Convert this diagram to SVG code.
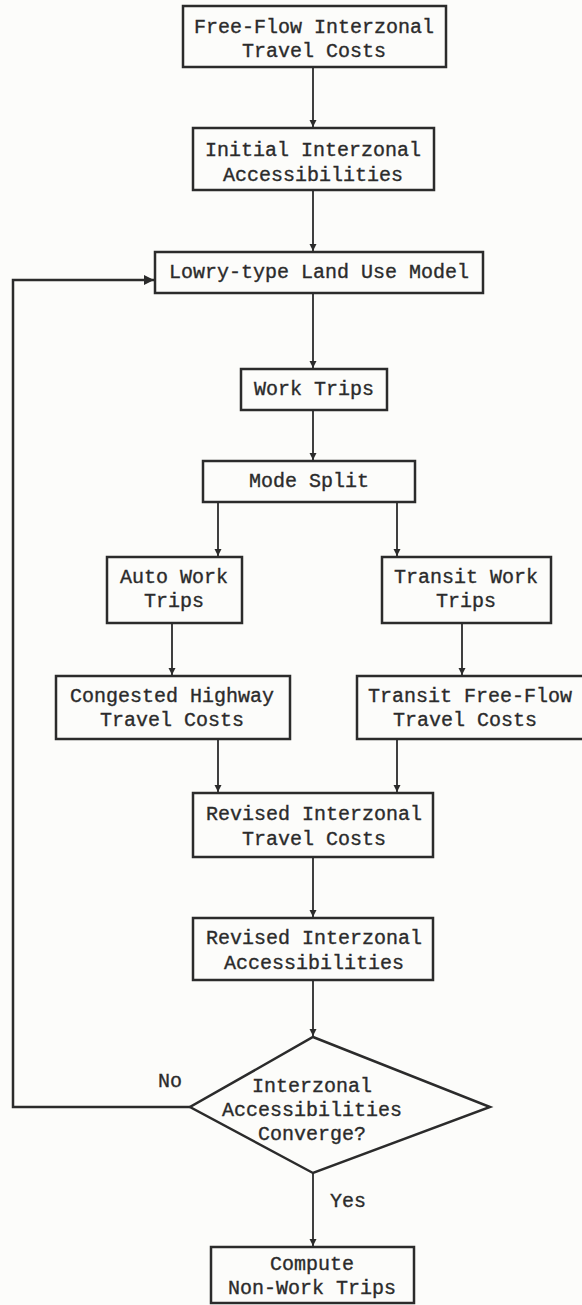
<svg xmlns="http://www.w3.org/2000/svg" width="582" height="1305" viewBox="0 0 582 1305">
  <defs>
    <marker id="arrow" viewBox="0 0 10 10" refX="10" refY="5" markerWidth="7" markerHeight="9" orient="auto" markerUnits="userSpaceOnUse">
      <path d="M0,0 L10,5 L0,10 z" fill="#2b2b2b"/>
    </marker>
    <marker id="arrowBig" viewBox="0 0 10 10" refX="10" refY="5" markerWidth="15" markerHeight="10" orient="auto" markerUnits="userSpaceOnUse">
      <path d="M0,0 L10,5 L0,10 z" fill="#2b2b2b"/>
    </marker>
  </defs>
  <style>
    .box { fill: none; stroke: #2b2b2b; stroke-width: 2.5; }
    .lbl { font-family: "Liberation Mono", "DejaVu Sans Mono", monospace; font-size: 20px; fill: #2b2b2b; stroke: #2b2b2b; stroke-width: 0.35; text-anchor: middle; }
    .tag { font-family: "Liberation Mono", "DejaVu Sans Mono", monospace; font-size: 20px; fill: #2b2b2b; stroke: #2b2b2b; stroke-width: 0.35; }
    .edge { fill: none; stroke: #2b2b2b; stroke-width: 1.8; marker-end: url(#arrow); }
    .loop { fill: none; stroke: #2b2b2b; stroke-width: 2.5; marker-end: url(#arrowBig); }
  </style>
  <rect x="0" y="0" width="582" height="1305" fill="#fcfcfa"/>

  <g id="connectors">
    <line class="edge" x1="313" y1="67" x2="313" y2="127"/>
    <line class="edge" x1="313" y1="190" x2="313" y2="251"/>
    <line class="edge" x1="313" y1="293" x2="313" y2="368"/>
    <line class="edge" x1="313" y1="410" x2="313" y2="460"/>
    <line class="edge" x1="218" y1="502" x2="218" y2="556"/>
    <line class="edge" x1="397" y1="502" x2="397" y2="556"/>
    <line class="edge" x1="172" y1="623" x2="172" y2="675"/>
    <line class="edge" x1="462" y1="623" x2="462" y2="675"/>
    <line class="edge" x1="218" y1="739" x2="218" y2="792"/>
    <line class="edge" x1="397" y1="739" x2="397" y2="792"/>
    <line class="edge" x1="313" y1="857" x2="313" y2="917"/>
    <line class="edge" x1="313" y1="980" x2="313" y2="1036"/>
    <line class="edge" x1="313" y1="1173" x2="313" y2="1246"/>
    <polyline class="loop" points="190,1107 13,1107 13,280 154,280"/>
    <text class="tag" x="158" y="1087">No</text>
    <text class="tag" x="330" y="1207">Yes</text>
  </g>

  <g id="free-flow-costs">
    <rect class="box" x="183" y="6" width="263" height="61"/>
    <text class="lbl" x="314" y="33">Free-Flow Interzonal</text>
    <text class="lbl" x="314" y="57">Travel Costs</text>
  </g>

  <g id="initial-accessibilities">
    <rect class="box" x="193" y="128" width="241" height="62"/>
    <text class="lbl" x="313" y="156">Initial Interzonal</text>
    <text class="lbl" x="313" y="181">Accessibilities</text>
  </g>

  <g id="land-use-model">
    <rect class="box" x="155" y="252" width="328" height="41"/>
    <text class="lbl" x="319" y="278">Lowry-type Land Use Model</text>
  </g>

  <g id="work-trips">
    <rect class="box" x="241" y="369" width="146" height="41"/>
    <text class="lbl" x="314" y="395">Work Trips</text>
  </g>

  <g id="mode-split">
    <rect class="box" x="203" y="461" width="212" height="41"/>
    <text class="lbl" x="309" y="487">Mode Split</text>
  </g>

  <g id="auto-work-trips">
    <rect class="box" x="107" y="557" width="135" height="66"/>
    <text class="lbl" x="174" y="583">Auto Work</text>
    <text class="lbl" x="174" y="607">Trips</text>
  </g>

  <g id="transit-work-trips">
    <rect class="box" x="382" y="557" width="169" height="66"/>
    <text class="lbl" x="466" y="583">Transit Work</text>
    <text class="lbl" x="466" y="607">Trips</text>
  </g>

  <g id="congested-highway-costs">
    <rect class="box" x="56" y="676" width="234" height="63"/>
    <text class="lbl" x="172" y="702">Congested Highway</text>
    <text class="lbl" x="172" y="726">Travel Costs</text>
  </g>

  <g id="transit-free-flow-costs">
    <rect class="box" x="357" y="676" width="235" height="63"/>
    <text class="lbl" x="470" y="702">Transit Free-Flow</text>
    <text class="lbl" x="465" y="726">Travel Costs</text>
  </g>

  <g id="revised-travel-costs">
    <rect class="box" x="193" y="793" width="240" height="64"/>
    <text class="lbl" x="314" y="820">Revised Interzonal</text>
    <text class="lbl" x="314" y="845">Travel Costs</text>
  </g>

  <g id="revised-accessibilities">
    <rect class="box" x="193" y="918" width="240" height="62"/>
    <text class="lbl" x="314" y="944">Revised Interzonal</text>
    <text class="lbl" x="314" y="969">Accessibilities</text>
  </g>

  <g id="convergence-test">
    <polygon class="box" points="313,1037 490,1107 313,1173 190,1107"/>
    <text class="lbl" x="312" y="1092">Interzonal</text>
    <text class="lbl" x="312" y="1116">Accessibilities</text>
    <text class="lbl" x="312" y="1140">Converge?</text>
  </g>

  <g id="non-work-trips">
    <rect class="box" x="211" y="1247" width="203" height="56"/>
    <text class="lbl" x="312" y="1270">Compute</text>
    <text class="lbl" x="312" y="1294">Non-Work Trips</text>
  </g>
</svg>
